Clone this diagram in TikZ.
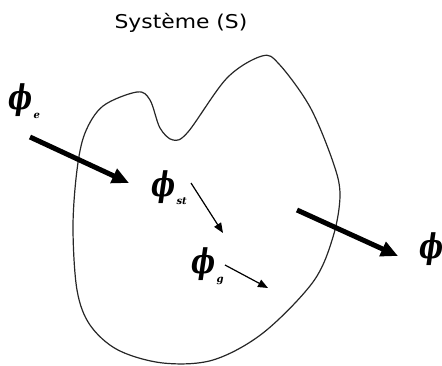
\documentclass[tikz,border=0pt]{standalone}
\usepackage{fontspec}
\newfontfamily\titlefont{DejaVu Sans}
\newfontfamily\phifont{DejaVu Serif}
\usetikzlibrary{arrows.meta}
\newcommand\fluxphi{\scalebox{0.75}[1]{\phifont\bfseries\itshape\fontsize{34}{34}\selectfont ϕ}}
\tikzset{
  blob/.style={draw=black!85, line width=1.2pt},
  bigarrow/.style={line width=5pt, -{Triangle[length=17pt,width=15pt]}},
  thinarrow/.style={line width=1.2pt, -{Triangle[length=10pt,width=8pt]}},
  phinode/.style={inner sep=0pt, outer sep=0pt},
  subnode/.style={inner sep=0pt, outer sep=0pt, anchor=base west, font=\phifont\fontsize{10}{10}\selectfont\bfseries\itshape},
  titlenode/.style={inner sep=0pt, anchor=base, font=\titlefont\fontsize{19}{19}\selectfont}
}
\begin{document}
\begin{tikzpicture}[x=1pt,y=-1pt]
\useasboundingbox (0,0) rectangle (442,365);
\clip (0,0) rectangle (442,365);

% title
\node[titlenode] (title) at (181,28) {\scalebox{1.15}[1]{Système (S)}};

% system outline
\draw[blob] plot[smooth cycle, tension=0.55] coordinates {
  (77,170) (85,133) (103,106) (137,92) (150,100) (160,128) (173,140) (188,132)
  (227,78) (262,56) (279,64) (310,107) (333,162) (340,195) (333,237) (313,282)
  (263,333) (213,360) (163,363) (118,350) (90,325) (77,290) (73,227)};

% flux labels
\node[phinode] (pe) at (21,100) {\fluxphi};
\node[subnode] (pes) at ([xshift=0.5pt,yshift=-2pt]pe.south east) {e};
\node[phinode] (pst) at (164,187) {\fluxphi};
\node[subnode] (psts) at ([xshift=0.5pt,yshift=-1pt]pst.south east) {st};
\node[phinode] (pg) at (204,264) {\fluxphi};
\node[subnode] (pgs) at ([xshift=0.5pt,yshift=-2pt]pg.south east) {g};
\node[phinode] (ps) at (431,249) {\fluxphi};
\node[subnode] (pss) at ([xshift=0.5pt,yshift=-2pt]ps.south east) {s};

% arrow end points
\coordinate (a1s) at (30,137);
\coordinate (a1e) at (129,183);
\coordinate (a2s) at (297,210);
\coordinate (a2e) at (398,256);
\coordinate (t1s) at (191,183);
\coordinate (t1e) at (223,233);
\coordinate (t2s) at (225,265);
\coordinate (t2e) at (268,288);

\draw[bigarrow] (a1s) -- (a1e);
\draw[bigarrow] (a2s) -- (a2e);
\draw[thinarrow] (t1s) -- (t1e);
\draw[thinarrow] (t2s) -- (t2e);
\end{tikzpicture}
\end{document}
